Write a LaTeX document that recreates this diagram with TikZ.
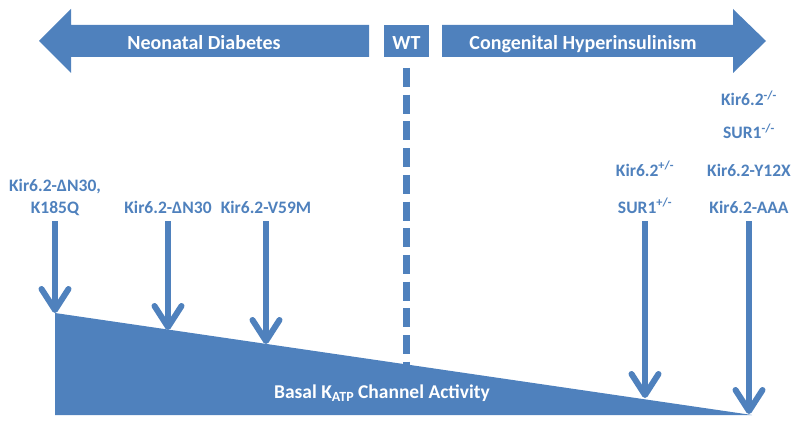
\documentclass[tikz,border=0pt]{standalone}
\usepackage{fontspec}
\setmainfont{Carlito}
\usetikzlibrary{arrows.meta}
\definecolor{kblue}{HTML}{4F81BD}
\begin{document}
\begin{tikzpicture}[x=1pt,y=-1pt,
  band/.style={fill=kblue},
  hdr/.style={font=\fontsize{20}{24}\selectfont\bfseries, text=white, anchor=base, inner sep=0pt},
  lbl/.style={font=\fontsize{17.5}{20}\selectfont\bfseries, text=kblue, anchor=base, inner sep=0pt},
  downarrow/.style={draw=kblue, line width=6pt, -{Straight Barb[length=21pt,width=27pt,round]}},
  wtline/.style={draw=kblue, line width=7pt, dash pattern=on 19pt off 7.7pt}]
\useasboundingbox (0,0) rectangle (800,425);
% top arrows and WT box
\fill[band] (39,41) -- (71,9) -- (71,25) -- (369,25) -- (369,57) -- (71,57) -- (71,73) -- cycle;
\fill[band] (766,41) -- (733,9) -- (733,25) -- (442,25) -- (442,57) -- (733,57) -- (733,73) -- cycle;
\fill[band] (384,25) rectangle (429,57);
\node[hdr] (nd) at (204,50) {Neonatal Diabetes};
\node[hdr] (wt) at (406.5,50) {WT};
\node[hdr] (chi) at (583,50) {Congenital Hyperinsulinism};
% activity triangle
\fill[band] (55,313) -- (752,415) -- (55,415) -- cycle;
\node[font=\fontsize{19.5}{22}\selectfont\bfseries, text=white, anchor=base, inner sep=0pt] (act) at (382,398) {Basal K{\fontsize{14}{16}\selectfont\raisebox{-3.5pt}{ATP}} Channel Activity};
% WT dashed line
\coordinate (wtA) at (406.5,68);
\coordinate (wtB) at (406.5,365);
\draw[wtline] (wtA) -- (wtB);
% labels
\node[lbl] (l1a) at (55,191) {Kir6.2-ΔN30,};
\node[lbl] (l1b) at (55,213) {K185Q};
\node[lbl] (l2) at (168,213) {Kir6.2-ΔN30};
\node[lbl] (l3) at (266,213) {Kir6.2-V59M};
\node[lbl] (l4a) at (645,176) {Kir6.2\textsuperscript{+/-}};
\node[lbl] (l4b) at (645,213) {SUR1\textsuperscript{+/-}};
\node[lbl] (l5a) at (749,106) {Kir6.2\textsuperscript{-/-}};
\node[lbl] (l5b) at (749,139) {SUR1\textsuperscript{-/-}};
\node[lbl] (l5c) at (749,176) {Kir6.2-Y12X};
\node[lbl] (l5d) at (749,213) {Kir6.2-AAA};
% arrow ends
\coordinate (s1) at (55,221);  \coordinate (t1) at (55,313);
\coordinate (s2) at (168,221); \coordinate (t2) at (168,330);
\coordinate (s3) at (266,221); \coordinate (t3) at (266,344);
\coordinate (s4) at (645,221); \coordinate (t4) at (645,398);
\coordinate (s5) at (749,221); \coordinate (t5) at (749,414);
\draw[downarrow] (s1) -- (t1);
\draw[downarrow] (s2) -- (t2);
\draw[downarrow] (s3) -- (t3);
\draw[downarrow] (s4) -- (t4);
\draw[downarrow] (s5) -- (t5);
\end{tikzpicture}
\end{document}
